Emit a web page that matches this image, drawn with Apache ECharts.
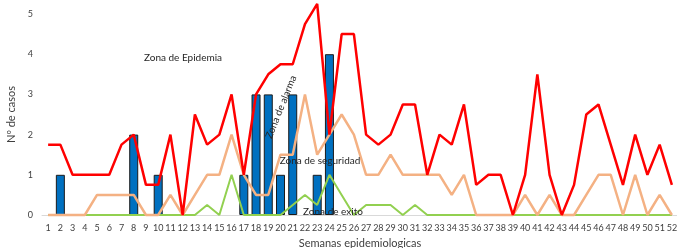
<!DOCTYPE html>
<html><head><meta charset="utf-8">
<script src="https://cdn.jsdelivr.net/npm/echarts@6/dist/echarts.min.js"></script>
<style>html,body{margin:0;padding:0;background:#fff}#c{width:677px;height:248px}</style>
</head><body><div id="c"></div>
<script>
const weeks = Array.from({length:52},(_,i)=>String(i+1));
const casos = [null,1,null,null,null,null,null,2,null,1,null,null,null,null,null,null,1,3,3,1,3,null,1,4,null,null,null,null,null,null,null,null,null,null,null,null,null,null,null,null,null,null,null,null,null,null,null,null,null,null,null,null];
const epidemia = [1.75,1.75,1,1,1,1,1.75,2,0.75,0.75,2,0,2.5,1.75,2,3,1,3,3.5,3.75,3.75,4.75,5.25,2,4.5,4.5,2,1.75,2,2.75,2.75,1,2,1.75,2.75,0.75,1,1,0,1,3.5,1,0,0.75,2.5,2.75,1.75,0.75,2,1,1.75,0.75];
const alarma = [0,0,0,0,0.5,0.5,0.5,0.5,0,0,0.5,0,0.5,1,1,2,1,0.5,0.5,1.5,1.5,3,1.5,2,2.5,2,1,1,1.5,1,1,1,1,0.5,1,0,0,0,0,0.5,0,0.5,0,0,0.5,1,1,0,1,0,0.5,0];
const exito = [0,0,0,0,0,0,0,0,0,0,0,0,0,0.25,0,1,0,0,0,0,0.25,0.5,0.25,1,0.5,0,0.25,0.25,0.25,0,0.25,0,0,0,0,0,0,0,0,0,0,0,0,0,0,0,0,0,0,0,0,0];
const yTicks = [0,1,2,3,4,5];

const FONT = 'Lato';
const chart = echarts.init(document.getElementById('c'), null, {renderer:'canvas'});
chart.setOption({
  animation:false,
  textStyle:{fontFamily:FONT},
  grid:{left:42, top:14, width:636, height:201, containLabel:false, outerBoundsMode:'none'},
  xAxis:{type:'category', data:weeks, boundaryGap:true,
    name:'Semanas epidemiologicas', nameLocation:'middle', nameGap:21,
    nameTextStyle:{fontSize:11, color:'#404040', fontFamily:FONT},
    axisLine:{lineStyle:{color:'#d9d9d9'}}, axisTick:{show:false},
    axisLabel:{fontSize:9, color:'#404040', interval:0, margin:9}},
  yAxis:{type:'value', min:0, max:5, interval:1,
    name:'Nº de casos', nameLocation:'middle', nameGap:24, nameRotate:90,
    nameTextStyle:{fontSize:11, color:'#404040', fontFamily:FONT},
    axisLine:{show:false}, axisTick:{show:false}, splitLine:{show:false},
    axisLabel:{fontSize:9, color:'#404040', margin:9}},
  series:[
    {type:'bar', data:casos, barWidth:9, itemStyle:{color:'#0070C0', borderColor:'#1a1a1a', borderWidth:1}, z:1},
    {type:'line', data:exito, symbol:'none', clip:false, lineStyle:{color:'#92D050', width:2}, z:2},
    {type:'line', data:alarma, symbol:'none', clip:false, lineStyle:{color:'#F4B183', width:2.5}, z:3},
    {type:'line', data:epidemia, symbol:'none', clip:false, lineStyle:{color:'#FF0000', width:2.5}, z:4}
  ],
  graphic:[
    {type:'text', x:183, y:58, style:{text:'Zona de Epidemia', fontSize:10, fill:'#262626', fontFamily:FONT, align:'center', verticalAlign:'middle'}, z:10},
    {type:'text', x:281, y:107, rotation:Math.PI*68/180, style:{text:'Zona de alarma', fontSize:10, fill:'#262626', fontFamily:FONT, align:'center', verticalAlign:'middle'}, z:10},
    {type:'text', x:320, y:161, style:{text:'Zona de seguridad', fontSize:10, fill:'#262626', fontFamily:FONT, align:'center', verticalAlign:'middle'}, z:10},
    {type:'text', x:333, y:212, style:{text:'Zona de exito', fontSize:10, fill:'#262626', fontFamily:FONT, align:'center', verticalAlign:'middle'}, z:10}
  ]
});
</script></body></html>
